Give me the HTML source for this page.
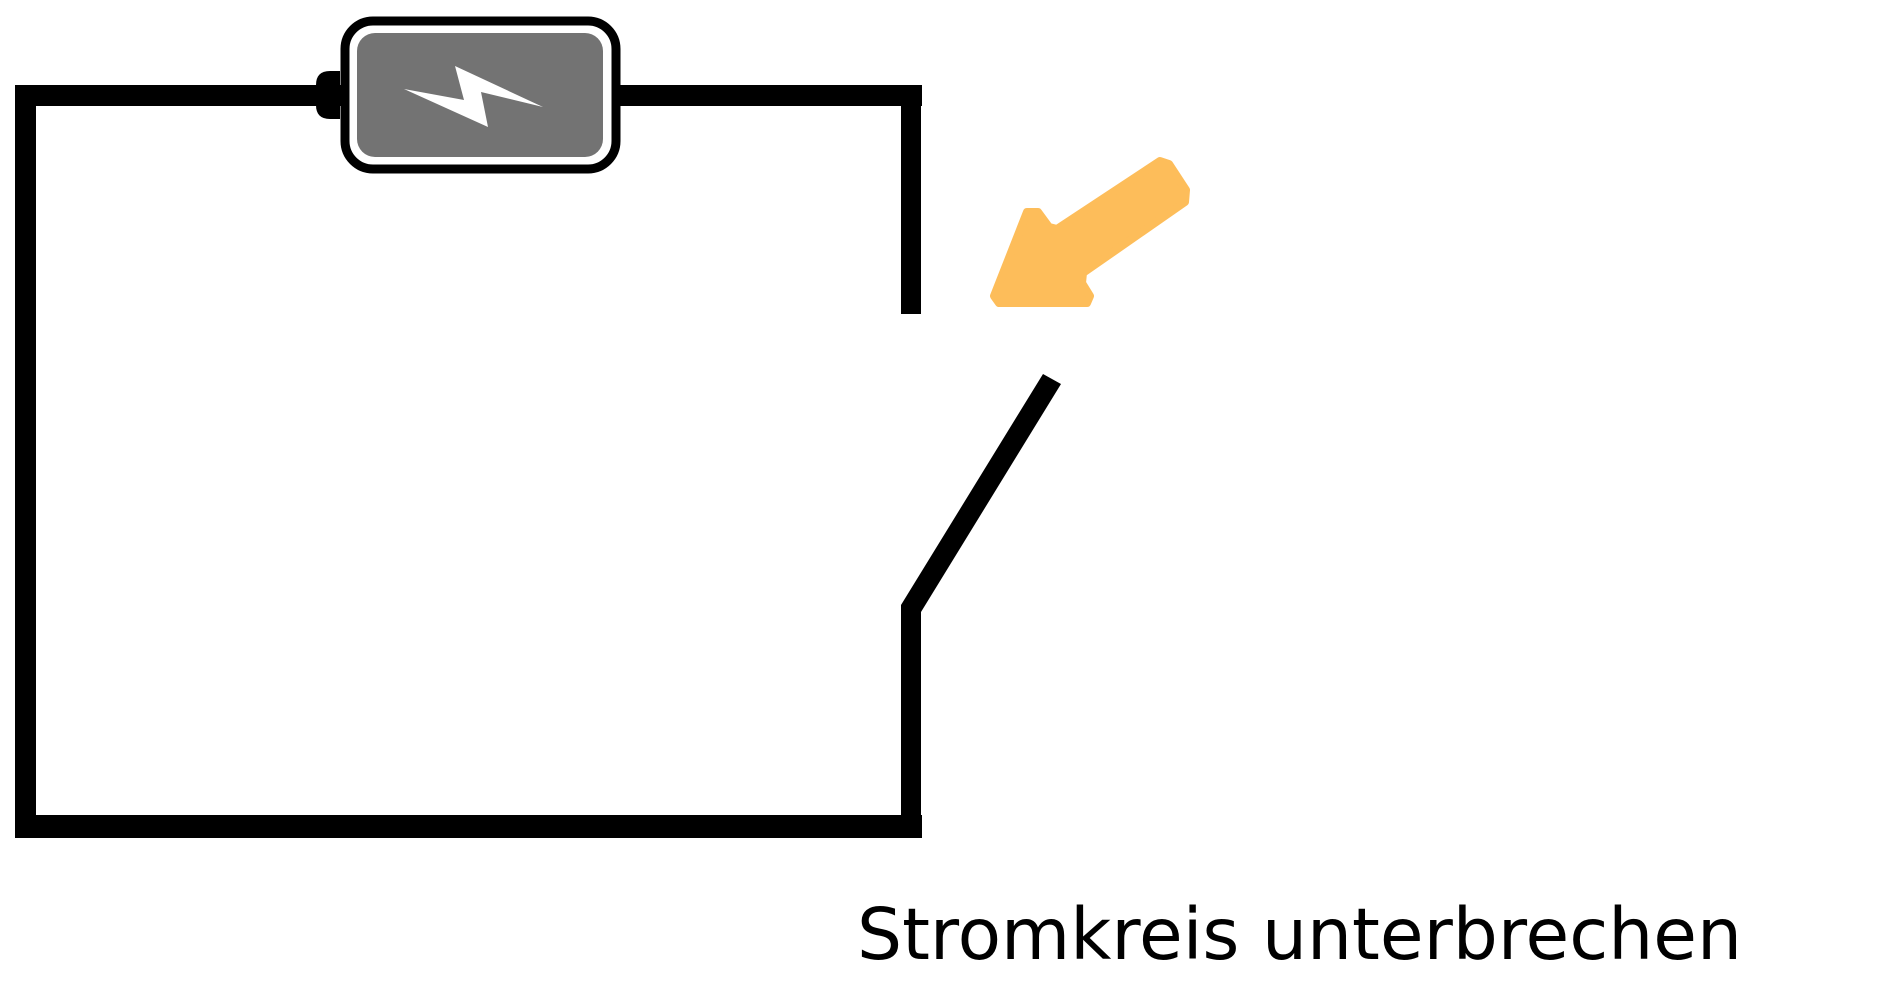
<!DOCTYPE html>
<html><head><meta charset="utf-8"><style>html,body{margin:0;padding:0;background:#fff;}svg{display:block}</style></head>
<body>
<svg width="1900" height="1000" viewBox="0 0 1900 1000" xmlns="http://www.w3.org/2000/svg">
<rect width="1900" height="1000" fill="#fff"/>
<!-- wires -->
<rect x="15" y="85" width="907" height="21" fill="#000"/>
<rect x="15" y="85" width="21" height="753" fill="#000"/>
<rect x="15" y="815" width="907" height="23" fill="#000"/>
<rect x="901" y="85" width="20" height="229" fill="#000"/>
<polygon points="901,838 901,605 1043,374 1061,384 921,612 921,838" fill="#000"/>
<!-- battery -->
<path d="M340,71 L330,71 Q316,71 316,85 L316,105 Q316,119 330,119 L340,119 Z" fill="#000"/>
<rect x="345" y="21" width="271" height="148" rx="28" fill="#fff" stroke="#000" stroke-width="9"/>
<rect x="357" y="33" width="246" height="124" rx="18" fill="#737373"/>
<polygon points="455,66 543,107 481,92 488,127 404,89 464,100" fill="#fff"/>
<!-- arrow -->
<polygon points="999,303 1087,303 1090,296 1082,283 1083,273 1185,202 1186,190 1169,164 1160,161 1057,229 1049,227 1038,212 1027,212 994,296" fill="#FDBD5A" stroke="#FDBD5A" stroke-width="8" stroke-linejoin="round"/>
<!-- label -->
<text x="857" y="959" font-family="DejaVu Sans, Liberation Sans, sans-serif" font-size="71" textLength="885" lengthAdjust="spacingAndGlyphs" fill="#000">Stromkreis unterbrechen</text>
</svg>
</body></html>
